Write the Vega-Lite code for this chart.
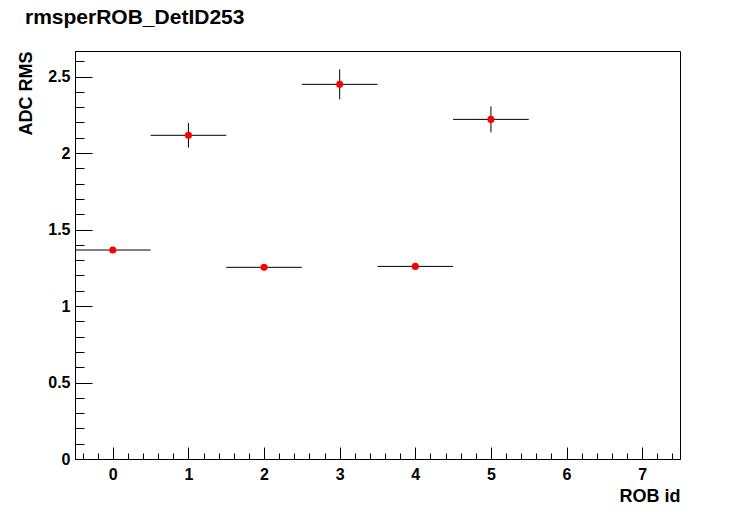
{
  "$schema": "https://vega.github.io/schema/vega-lite/v6.json",
  "width": 605,
  "height": 408,
  "autosize": {"type": "none"},
  "padding": {"left": 75, "top": 51, "right": 76, "bottom": 52},
  "background": "white",
  "title": {
    "text": "rmsperROB_DetID253",
    "anchor": "start",
    "frame": "group",
    "dx": -50,
    "offset": 26,
    "dy": 20,
    "baseline": "alphabetic",
    "font": "Liberation Sans",
    "fontSize": 21,
    "fontWeight": "bold",
    "color": "black"
  },
  "config": {
    "view": {"stroke": "black", "strokeWidth": 1},
    "axis": {
      "domainColor": "black",
      "tickColor": "black",
      "labelColor": "black",
      "titleColor": "black",
      "labelFont": "Liberation Sans",
      "labelFontWeight": "bold",
      "labelFontSize": 16,
      "titleFont": "Liberation Sans",
      "titleFontWeight": "bold",
      "titleFontSize": 18,
      "grid": false,
      "labelOverlap": false,
      "labelFlush": false,
      "labelBound": false,
      "tickCount": 200
    }
  },
  "data": {
    "values": [
      {"rob": 0, "rms": 1.366, "ylo": 1.358, "yhi": 1.374, "xlo": -0.5, "xhi": 0.5},
      {"rob": 1, "rms": 2.116, "ylo": 2.036, "yhi": 2.196, "xlo": 0.5, "xhi": 1.5},
      {"rob": 2, "rms": 1.253, "ylo": 1.245, "yhi": 1.261, "xlo": 1.5, "xhi": 2.5},
      {"rob": 3, "rms": 2.449, "ylo": 2.351, "yhi": 2.547, "xlo": 2.5, "xhi": 3.5},
      {"rob": 4, "rms": 1.259, "ylo": 1.251, "yhi": 1.267, "xlo": 3.5, "xhi": 4.5},
      {"rob": 5, "rms": 2.220, "ylo": 2.135, "yhi": 2.305, "xlo": 4.5, "xhi": 5.5}
    ]
  },
  "layer": [
    {
      "mark": {"type": "rule", "color": "black", "strokeWidth": 1},
      "encoding": {
        "x": {
          "field": "xlo",
          "type": "quantitative",
          "scale": {"domain": [-0.5, 7.5], "nice": false, "zero": false},
          "axis": {
            "title": "ROB id",
            "titleAnchor": "end",
            "titleAlign": "right",
            "titleX": 605,
            "titleY": 42,
            "titleBaseline": "alphabetic",
            "tickCount": 200,
            "values": [-0.4, -0.2, 0, 0.2, 0.4, 0.6, 0.8, 1, 1.2, 1.4, 1.6, 1.8, 2, 2.2, 2.4, 2.6, 2.8, 3, 3.2, 3.4, 3.6, 3.8, 4, 4.2, 4.4, 4.6, 4.8, 5, 5.2, 5.4, 5.6, 5.8, 6, 6.2, 6.4, 6.6, 6.8, 7, 7.2, 7.4],
            "tickSize": {"condition": {"test": "datum.value % 1 === 0", "value": -12}, "value": -6},
            "labelExpr": "datum.value % 1 === 0 ? format(datum.value, 'd') : ''",
            "labelPadding": 19
          }
        },
        "x2": {"field": "xhi"},
        "y": {
          "field": "rms",
          "type": "quantitative",
          "scale": {"domain": [0, 2.667], "nice": false, "zero": false},
          "axis": {
            "title": "ADC RMS",
            "titleAnchor": "end",
            "titleAngle": 270,
            "titleAlign": "right",
            "titleBaseline": "middle",
            "titleX": -49,
            "titleY": 0,
            "tickCount": 200,
            "values": [0, 0.1, 0.2, 0.3, 0.4, 0.5, 0.6, 0.7, 0.8, 0.9, 1, 1.1, 1.2, 1.3, 1.4, 1.5, 1.6, 1.7, 1.8, 1.9, 2, 2.1, 2.2, 2.3, 2.4, 2.5, 2.6],
            "tickSize": {"condition": {"test": "datum.value % 0.5 === 0", "value": -17}, "value": -9},
            "labelExpr": "datum.value % 0.5 === 0 ? format(datum.value, '') : ''",
            "labelPadding": 22
          }
        }
      }
    },
    {
      "mark": {"type": "rule", "color": "black", "strokeWidth": 1},
      "encoding": {
        "x": {"field": "rob", "type": "quantitative"},
        "y": {"field": "ylo", "type": "quantitative"},
        "y2": {"field": "yhi"}
      }
    },
    {
      "mark": {"type": "point", "shape": "circle", "filled": true, "color": "red", "opacity": 1, "size": 50},
      "encoding": {
        "x": {"field": "rob", "type": "quantitative"},
        "y": {"field": "rms", "type": "quantitative"}
      }
    }
  ]
}
